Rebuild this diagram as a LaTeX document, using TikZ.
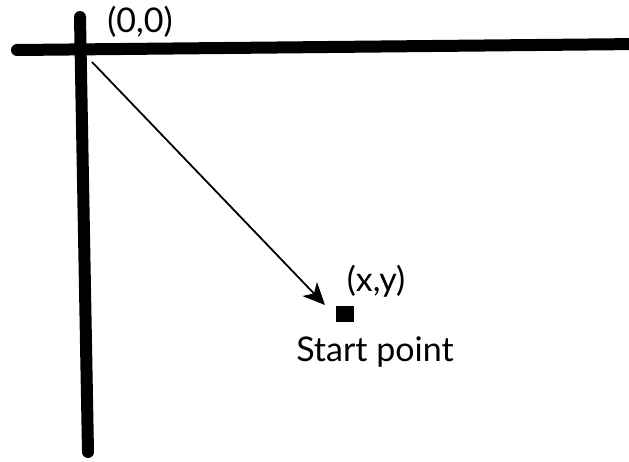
\documentclass[tikz,border=0pt]{standalone}
\usepackage{fontspec}
\setmainfont{Lato}
\usetikzlibrary{arrows.meta}
\begin{document}
\begin{tikzpicture}[x=1pt,y=-1pt,
  axis/.style={line width=12pt,line cap=round,black},
  lbl/.style={font=\fontsize{34}{40}\selectfont,inner sep=0pt},
  arr/.style={line width=1.8pt,-{Stealth[length=22pt,width=20pt,inset=6pt]}}]
\useasboundingbox (0,0) rectangle (629,461);
\coordinate (hl) at (17,50);
\coordinate (hr) at (640,44);
\coordinate (vt) at (80,17);
\coordinate (vb) at (88,452);
\draw[axis] (hl) -- (hr);
\draw[axis] (vt) -- (vb);
\coordinate (o) at (92,62);
\node[fill=black,minimum width=18pt,minimum height=16pt,inner sep=0pt] (sp) at (345,314) {};
\coordinate (tip) at (325,305);
\draw[arr] (o) -- (tip);
\node[lbl] (l0) at (140,22) {(0,0)};
\node[lbl] (lxy) at (376,281) {(x,y)};
\node[lbl] (ls) at (375,352) {Start point};
\end{tikzpicture}
\end{document}
